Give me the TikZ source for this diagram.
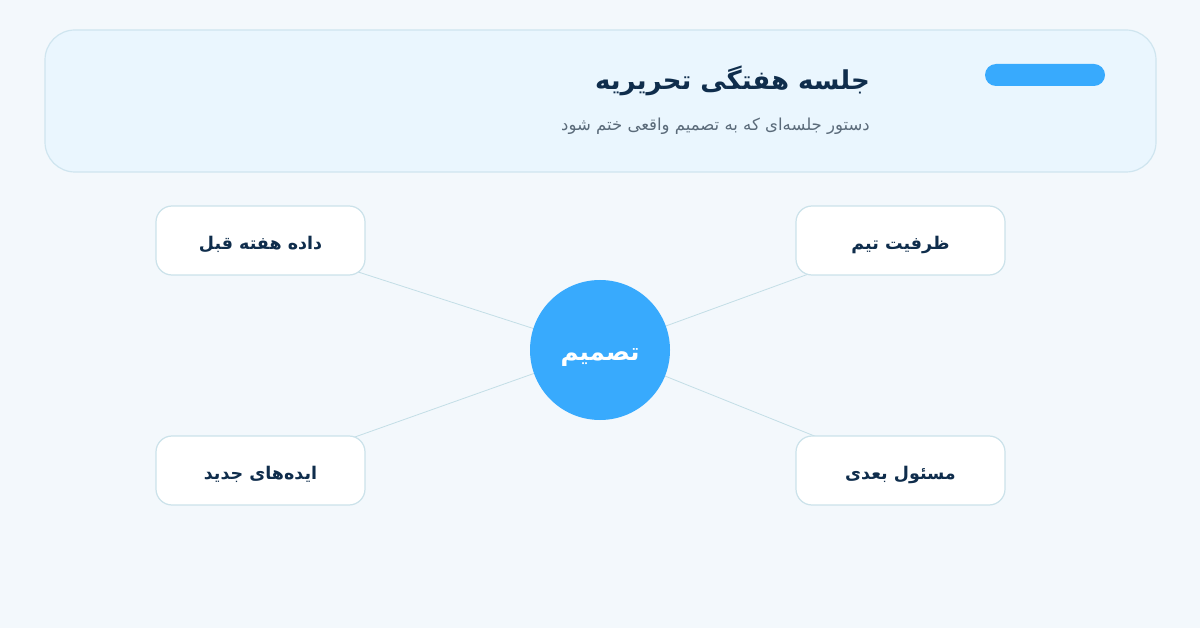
\documentclass[tikz,border=0pt]{standalone}
\usepackage{fontspec}
\TeXXeTstate=1
\newfontfamily\arabicfont[Script=Arabic]{DejaVu Sans}
\definecolor{bgc}{HTML}{F3F8FC}
\definecolor{headfill}{HTML}{EAF6FE}
\definecolor{headline}{HTML}{CFE5EF}
\definecolor{accent}{HTML}{38AAFD}
\definecolor{navy}{HTML}{0F2D4C}
\definecolor{subgray}{HTML}{5B6B7A}
\definecolor{boxline}{HTML}{CBE2EA}
\definecolor{linkc}{HTML}{C3DEE6}
\tikzset{
  x=1pt,y=-1pt,
  topicbox/.style={draw=boxline, line width=1.2pt, fill=white, rounded corners=16pt,
    minimum width=209pt, minimum height=69pt, inner sep=0pt,
    text height=18pt, text depth=0pt,
    font=\arabicfont\bfseries\fontsize{17.5}{22}\selectfont, text=navy},
  hub/.style={circle, fill=accent, minimum size=140pt, inner sep=0pt,
    text height=22pt, text depth=0pt,
    font=\arabicfont\bfseries\fontsize{24.5}{28}\selectfont, text=white},
  link/.style={draw=linkc, line width=0.8pt}
}
\begin{document}
\begin{tikzpicture}
\fill[bgc] (0,0) rectangle (1200,628);
\useasboundingbox (0,0) rectangle (1200,628);
% header
\node[draw=headline, line width=1.2pt, fill=headfill, rounded corners=30pt,
  minimum width=1111pt, minimum height=142pt, inner sep=0pt] (header) at (600.5,101) {};
\node[fill=accent, rounded corners=11pt, minimum width=120pt, minimum height=22pt, inner sep=0pt] (pill) at (1045,75) {};
\node[anchor=east, inner sep=0pt, text=navy, font=\arabicfont\bfseries\fontsize{26}{32}\selectfont] (title) at (870,81) {\beginR جلسه هفتگی تحریریه\endR};
\node[anchor=east, inner sep=0pt, text=subgray, font=\arabicfont\fontsize{16.5}{20}\selectfont] (subtitle) at (870,126) {\beginR دستور جلسه‌ای که به تصمیم واقعی ختم شود\endR};
% links
\coordinate (hc) at (600,350);
\coordinate (tlc) at (260.5,240.5);
\coordinate (trc) at (900.5,240.5);
\coordinate (blc) at (260.5,470.5);
\coordinate (brc) at (900.5,470.5);
\draw[link] (tlc) -- (hc);
\draw[link] (trc) -- (hc);
\draw[link] (blc) -- (hc);
\draw[link] (brc) -- (hc);
% topics and hub
\node[topicbox] (tl) at (tlc) {\beginR داده هفته قبل\endR};
\node[topicbox] (tr) at (trc) {\beginR ظرفیت تیم\endR};
\node[topicbox] (bl) at (blc) {\beginR ایده‌های جدید\endR};
\node[topicbox] (br) at (brc) {\beginR مسئول بعدی\endR};
\node[hub] (hub) at (hc) {\beginR تصمیم\endR};
\end{tikzpicture}
\end{document}
